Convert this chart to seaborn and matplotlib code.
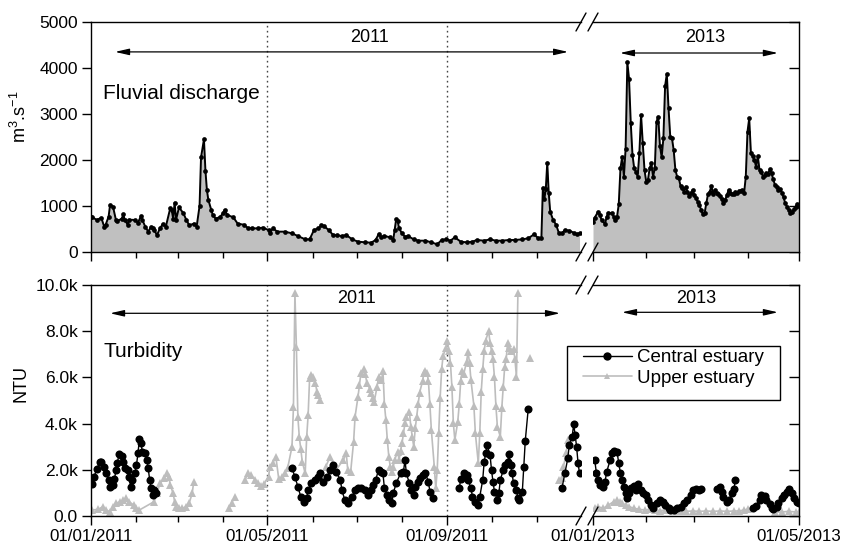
import numpy as np
import pandas as pd
import matplotlib
matplotlib.use("Agg")
import matplotlib.pyplot as plt
import matplotlib.dates as mdates
from matplotlib.ticker import FuncFormatter, FixedLocator
from matplotlib.lines import Line2D
from matplotlib.patches import Rectangle
import seaborn as sns

sns.set_theme(style="ticks")
plt.rcParams["font.family"] = ["Liberation Sans", "DejaVu Sans"]
plt.rcParams["mathtext.fontset"] = "custom"
plt.rcParams["mathtext.rm"] = "Liberation Sans"
plt.rcParams["mathtext.it"] = "Liberation Sans:italic"
plt.rcParams["mathtext.bf"] = "Liberation Sans:bold"
plt.rcParams["text.color"] = "black"
plt.rcParams["axes.labelcolor"] = "black"

# ---------------- data (day offset from 1 January of the year) ----------------
q2011_day = [0, 1, 4, 7, 9, 10, 12, 13, 15, 17, 18, 21, 22, 23, 25, 26, 30, 32, 34, 35, 37, 39, 41, 42, 43,
             45, 47, 49, 51, 54, 55, 56, 57, 58, 60, 63, 65, 67, 70, 72, 74, 75, 77, 78, 79, 80, 82, 83, 85,
             88, 90, 91, 93, 97, 100, 104, 107, 110, 114, 117, 121, 122, 124, 127, 132, 137, 141, 146, 149,
             152, 155, 157, 159, 162, 165, 168, 171, 174, 178, 182, 187, 191, 194, 196, 198, 200, 204, 206,
             207, 208, 209, 210, 212, 214, 216, 220, 223, 228, 232, 236, 239, 242, 245, 248, 252, 256, 260,
             263, 268, 272, 276, 280, 285, 289, 294, 298, 302, 305, 307, 308, 309, 310, 311, 312, 313, 315,
             317, 319, 321, 323, 326, 329, 331, 333]
q2011_val = [760, 754, 696, 746, 551, 594, 768, 1022, 985, 696, 674, 725, 819, 703, 594, 703, 696, 638, 776,
             696, 551, 442, 551, 514, 478, 370, 514, 609, 551, 949, 913, 725, 1072, 703, 971, 841, 696, 580,
             616, 551, 1000, 2058, 2450, 1768, 1348, 1130, 913, 804, 725, 761, 841, 913, 804, 754, 616, 594,
             522, 514, 514, 530, 478, 420, 514, 442, 442, 406, 348, 275, 275, 478, 514, 580, 558, 478, 370,
             360, 348, 370, 275, 225, 210, 203, 261, 384, 319, 348, 319, 261, 478, 710, 681, 514, 406, 333,
             348, 275, 246, 246, 210, 167, 261, 275, 246, 319, 225, 210, 225, 261, 246, 275, 246, 246, 261,
             261, 275, 297, 384, 297, 297, 1398, 1145, 1362, 1942, 1290, 877, 696, 594, 406, 406, 478, 464,
             420, 391, 406]

q2013_day = [0, 1, 3, 4, 5, 7, 8, 9, 11, 12, 13, 14, 15, 16, 17, 18, 19, 20, 21, 22, 23, 24, 25, 26, 27, 28,
             29, 30, 31, 32, 33, 34, 35, 36, 37, 38, 39, 40, 41, 42, 43, 44, 45, 46, 47, 48, 49, 50, 51, 52,
             53, 54, 55, 56, 57, 58, 59, 60, 61, 62, 63, 64, 65, 66, 67, 68, 69, 70, 71, 72, 73, 74, 75, 76,
             77, 78, 79, 80, 81, 82, 83, 84, 85, 86, 87, 88, 89, 90, 91, 92, 93, 94, 95, 96, 97, 98, 99, 100,
             101, 102, 103, 104, 105, 106, 107, 108, 109, 110, 111, 112, 113, 114, 115, 116, 117, 118, 119, 120]
q2013_val = [660, 747, 877, 804, 696, 609, 768, 855, 841, 768, 696, 768, 1036, 1819, 2072, 1637, 2247, 4123,
             3761, 2805, 2110, 1819, 1746, 1637, 2145, 2979, 2363, 1783, 1529, 1565, 1819, 1928, 1637, 1819,
             2834, 2943, 2304, 2058, 2471, 3609, 3870, 3124, 2507, 2471, 2217, 1783, 1637, 1601, 1435, 1384,
             1312, 1421, 1312, 1217, 1275, 1348, 1239, 1167, 1094, 1022, 913, 819, 841, 1058, 1261, 1312,
             1435, 1261, 1348, 1275, 1261, 1217, 1145, 1058, 1130, 1239, 1348, 1275, 1261, 1261, 1312, 1275,
             1333, 1333, 1348, 1275, 1637, 2616, 2906, 2145, 2087, 2000, 1855, 2087, 1783, 1746, 1637, 1674,
             1710, 1696, 1797, 1710, 1580, 1457, 1421, 1348, 1362, 1290, 1188, 1058, 986, 913, 855, 877, 928,
             986, 1044, 1000]

# turbidity; None marks a gap in the record
central2011_day = [1, 2, 4, 6, 7, 9, 10, 12, 13, 15, 16, 17, 18, 19, 21, 22, 23, 25, 26, 27, 28, 30, 31, 32,
                   33, 34, 35, 37, 38, 39, 40, 41, 42, 43, 44, None,
                   137, 139, 141, 143, 145, 147, 148, 150, 153, 155, 156, 158, 161, 163, 165, 167, 170, 171,
                   173, 175, 178, 180, 182, 184, 187, 189, 191, 192, 194, 196, 198, 199, 200, 202, 203, 205,
                   206, 208, 211, 213, 214, 215, 217, 218, 220, 221, 223, 224, 226, 228, 230, 231, 233, None,
                   251, 252, 254, 256, 257, 259, 260, 262, 264, 265, 267, 268, 269, 270, 272, 273, 274, 275,
                   277, 278, 279, 281, 282, 284, 285, 286, 287, 288, 290, 291, 292, 294, 295, 296, 298, None,
                   321, 323, 325, 326, 328, 329, 330, 331, 332, 333]
central2011_val = [1385, 1703, 2020, 2352, 2352, 2135, 1847, 1558, 1270, 1342, 1587, 1991, 2280, 2684, 2597,
                   2352, 2063, 1991, 1703, 1270, 1558, 1876, 2208, 2712, 3319, 3175, 2784, 2741, 2424, 2063,
                   1558, 1198, 909, 1126, 981, None,
                   2063, 1703, 1270, 837, 620, 765, 1126, 1414, 1558, 1703, 1876, 1486, 1703, 1991, 2208,
                   1919, 1558, 1126, 693, 548, 837, 1126, 1198, 1198, 1126, 909, 1126, 1342, 1558, 1991,
                   1919, 1847, 1198, 909, 693, 548, 981, 1414, 1847, 1919, 2424, 1847, 1414, 1126, 909,
                   1270, 1486, 1630, 1775, 1847, 1486, 1053, 765, None,
                   1198, 1587, 1847, 1775, 1558, 1198, 837, 620, 476, 837, 1558, 2352, 2712, 3074, 2640,
                   1991, 1486, 1053, 693, 981, 1558, 1991, 2208, 2352, 2669, 2208, 1847, 1414, 1126, 765,
                   693, 1053, 2135, 3247, 4618, None,
                   1198, 1847, 2496, 3074, 3435, 3983, 3507, 3002, 2280, 1847]

upper2011_day = [1, 5, 8, 10, 13, 15, 17, 20, 22, 24, 26, 29, 31, 33, 43, 45, 47, 50, 52, 53, 54, 56, 57, 58,
                 60, 62, 65, 67, 69, 70, None,
                 94, 96, 98, None,
                 105, 107, 109, 112, 114, 116, 118, 121, 122, 124, 126, 128, 130, 132, 134, 137, 138, 139,
                 140, 141, 142, 143, 144, 146, 147, 148, 149, 150, 151, 153, 154, 155, 156, None,
                 160, 163, 166, 167, 172, 174, 175, 177, 179, 180, 182, 183, 184, 186, 187, 188, 190, 191,
                 192, 193, 195, 196, 198, 199, 200, 201, 202, 203, 204, 205, 206, 207, 209, 210, 211, 212,
                 213, 214, 215, 217, 218, 219, 220, 221, 222, 223, 224, 226, 227, 228, 229, 230, 231, 232,
                 234, 235, 236, 237, 238, 239, 240, 242, 243, 244, 245, 246, 247, 248, 250, 251, 252, 253,
                 254, 256, 257, 258, 259, 261, 262, 264, 265, 266, 267, 268, 269, 271, 272, 273, 274, 275,
                 276, 277, 279, 280, 281, 282, 283, 284, 285, 286, 288, 289, 290, 291, None,
                 299, None,
                 319, 321, 322, 324, 325]
upper2011_val = [260, 288, 404, 260, 188, 404, 548, 620, 693, 765, 620, 476, 332, 260, 620, 981, 1414, 1630,
                 1876, 1703, 1342, 981, 620, 404, 332, 332, 404, 577, 981, 1486, None,
                 332, 577, 837, None,
                 1558, 1847, 1775, 1558, 1414, 1298, 1385, 1703, 2135, 2308, 2568, 1587, 1674, 1847, 2063,
                 3001, 4733, 9640, 7330, 4300, 3406, 2900, 2352, 1847, 3406, 4358, 5960, 6104, 6032, 5744,
                 5383, 5239, 5022, None,
                 2135, 2568, 2135, 1991, 2424, 2712, 1991, 1919, 3217, 4300, 5166, 5671, 6205, 6350, 6133,
                 5772, 5513, 5340, 5123, 4935, 5599, 6017, 5872, 6277, 4834, 4156, 3290, 2568, 2135, 1919,
                 2135, 2424, 2784, 2424, 2828, 3146, 3579, 4012, 4300, 4517, 3868, 3435, 3002, 3796, 4300,
                 4849, 5340, 5844, 6205, 6277, 6205, 5844, 4834, 3723, 2135, 1198, 1991, 3579, 5123, 6350,
                 6927, 7291, 7580, 7147, 6639, 5599, 4012, 3290, 4084, 4834, 5844, 6277, 6133, 6675, 7103,
                 6639, 5872, 4762, 3579, 2280, 3579, 5383, 6350, 7147, 7580, 8013, 7508, 7147, 6783, 6017,
                 4762, 3868, 3435, 4661, 5599, 6466, 6783, 7508, 7291, 7147, 7219, 6783, 6017, 9668, None,
                 6855, None,
                 1558, 1630, 2135, 2712, 3290]

central2013_day = [1, 2, 3, 4, 6, 7, 8, 10, 11, 12, 14, 15, 16, 17, 18, 19, 20, 21, 22, 24, 25, 26, 28, 29,
                   31, 32, 34, 35, 37, 39, 41, 42, 44, 45, 47, 49, 51, 53, 55, 57, 58, 60, 62, 63, None,
                   72, 74, 75, 76, 78, 79, 81, 82, 83, None,
                   93, 95, 97, 98, 100, 101, 103, 104, 105, 107, 108, 110, 111, 113, 114, 116, 117, 119, 120]
central2013_val = [2424, 1847, 1558, 1342, 1270, 1486, 1919, 2424, 2741, 2828, 2784, 2280, 1847, 1558, 1270,
                   981, 765, 981, 1198, 1298, 1126, 1385, 1126, 981, 909, 693, 476, 332, 548, 693, 620, 476,
                   332, 260, 260, 332, 404, 548, 693, 909, 1126, 1154, 1126, 1154, None,
                   1154, 1241, 1053, 837, 620, 693, 981, 1154, 1558, None,
                   332, 433, 693, 909, 866, 693, 519, 332, 288, 404, 577, 765, 909, 1053, 1154, 981, 765,
                   620, 577]

upper2013_day = [1, 3, 6, 9, 12, 14, 16, 17, 19, 21, 24, 27, 30, 33, 36, 39, 42, 47, 51, 54, 58, 62, 66, 70,
                 74, 78, 82, 85, 88, 90, None,
                 106, 110, 114, 118, 120]
upper2013_val = [332, 404, 332, 476, 620, 693, 620, 548, 476, 404, 332, 288, 260, 288, 260, 231, 260, 217,
                 217, 202, 217, 202, 217, 202, 217, 202, 217, 217, 260, 288, None,
                 173, 173, 202, 173, 173]

discharge_yticks = [0, 1000, 2000, 3000, 4000, 5000]
turbidity_yticks = [0, 2000, 4000, 6000, 8000, 10000]
series_names = ["Central estuary", "Upper estuary"]

Y2011 = pd.Timestamp("2011-01-01")
Y2013 = pd.Timestamp("2013-01-01")


def frame(start, days, vals):
    df = pd.DataFrame({"day": pd.array(days, dtype="Float64"), "val": pd.array(vals, dtype="Float64")})
    df["seg"] = df["val"].isna().cumsum()
    df = df.dropna().copy()
    df["day"] = df["day"].astype(float)
    df["val"] = df["val"].astype(float)
    df["date"] = start + pd.to_timedelta(df["day"], unit="D")
    return df


def dpos(start, day):
    return start + pd.Timedelta(days=day)


q11 = frame(Y2011, q2011_day, q2011_val)
q13 = frame(Y2013, q2013_day, q2013_val)
c11 = frame(Y2011, central2011_day, central2011_val)
u11 = frame(Y2011, upper2011_day, upper2011_val)
c13 = frame(Y2013, central2013_day, central2013_val)
u13 = frame(Y2013, upper2013_day, upper2013_val)

# ---------------- figure / layout ----------------
W, H = 841, 546
fig = plt.figure(figsize=(W / 100, H / 100), dpi=100)


def fa(x0, x1, ytop, ybot):
    return [x0 / W, 1 - ybot / H, (x1 - x0) / W, (ybot - ytop) / H]


ax_tl = fig.add_axes(fa(91, 581, 22, 252))
ax_tr = fig.add_axes(fa(593, 799, 22, 252))
ax_bl = fig.add_axes(fa(91, 581, 285, 516))
ax_br = fig.add_axes(fa(593, 799, 285, 516))

GREY_FILL = "#c0c0c0"
GREY_LINE = "#bdbdbd"

# discharge
for ax, df in ((ax_tl, q11), (ax_tr, q13)):
    ax.fill_between(df["date"], 0, df["val"], color=GREY_FILL, lw=0, zorder=1)
    sns.lineplot(data=df, x="date", y="val", units="seg", estimator=None, ax=ax, color="black", lw=1.4,
                 marker="o", markersize=3.4, markeredgewidth=0, legend=False, zorder=3)

# turbidity
for ax, cdf, udf in ((ax_bl, c11, u11), (ax_br, c13, u13)):
    sns.lineplot(data=udf, x="date", y="val", units="seg", estimator=None, ax=ax, color=GREY_LINE, lw=1.2,
                 marker="^", markersize=5.5, markeredgewidth=0, legend=False, zorder=2)
    sns.lineplot(data=cdf, x="date", y="val", units="seg", estimator=None, ax=ax, color="black", lw=1.0,
                 marker="o", markersize=5.8, markeredgewidth=0, legend=False, zorder=3)

# axes limits / ticks
for ax in (ax_tl, ax_bl):
    ax.set_xlim(Y2011, pd.Timestamp("2011-12-01"))
    ax.xaxis.set_major_locator(mdates.MonthLocator(bymonth=[1, 5, 9]))
    ax.xaxis.set_minor_locator(mdates.MonthLocator(bymonth=range(2, 12)))
    ax.spines["right"].set_visible(False)
    for d in ("2011-05-01", "2011-09-01"):
        ax.axvline(pd.Timestamp(d), color="#444444", ls=(0, (1.2, 2.4)), lw=1.0, zorder=0.5)
for ax in (ax_tr, ax_br):
    ax.set_xlim(Y2013, pd.Timestamp("2013-05-01"))
    ax.xaxis.set_major_locator(mdates.MonthLocator(bymonth=[1, 5]))
    ax.xaxis.set_minor_locator(mdates.MonthLocator(bymonth=[2, 3, 4]))
    ax.spines["left"].set_visible(False)
    ax.yaxis.tick_right()

for ax in (ax_tl, ax_tr, ax_bl, ax_br):
    ax.set_xlabel("")
    ax.set_ylabel("")
    ax.xaxis.set_major_formatter(mdates.DateFormatter("%d/%m/%Y"))
    for s in ax.spines.values():
        s.set_linewidth(1.0)
        s.set_color("black")
    ax.tick_params(axis="both", which="major", direction="out", length=6.5, width=1.0, color="black",
                   labelsize=12.5, labelcolor="black", pad=3)
    ax.tick_params(axis="x", which="major", labelsize=12.2)
    ax.tick_params(axis="x", which="minor", direction="out", length=4.5, width=1.0, color="black")

for ax in (ax_tl, ax_tr):
    ax.set_ylim(0, 5000)
    ax.yaxis.set_major_locator(FixedLocator(discharge_yticks))
    ax.tick_params(axis="x", labelbottom=False)
for ax in (ax_bl, ax_br):
    ax.set_ylim(0, 10000)
    ax.yaxis.set_major_locator(FixedLocator(turbidity_yticks))
ax_bl.yaxis.set_major_formatter(FuncFormatter(lambda v, p: f"{v / 1000:.1f}k" if v else "0.0"))
for ax in (ax_tr, ax_br):
    ax.tick_params(axis="y", which="major", direction="in", length=7, labelright=False, labelleft=False)

# axis labels
ax_tl.set_ylabel(r"m$\mathregular{^3}$.s$\mathregular{^{-1}}$", fontsize=13)
ax_tl.yaxis.set_label_coords((30 - 91) / 490, (252 - 117) / 230)
ax_bl.set_ylabel("NTU", fontsize=13)
ax_bl.yaxis.set_label_coords((30 - 91) / 490, (516 - 384) / 231)

# in-panel titles
ax_tl.text(dpos(Y2011, 8.2), 3445, "Fluvial discharge", fontsize=15, ha="left", va="center")
ax_bl.text(dpos(Y2011, 8.2), 7100, "Turbidity", fontsize=15, ha="left", va="center")

# period arrows
arrow = dict(arrowstyle="<|-|>,head_length=0.7,head_width=0.16", color="black", lw=0.9, shrinkA=0, shrinkB=0)
ax_tl.annotate("", xy=(dpos(Y2011, 325.2), 4350), xytext=(dpos(Y2011, 16.4), 4350), arrowprops=arrow)
ax_bl.annotate("", xy=(dpos(Y2011, 319.7), 8775), xytext=(dpos(Y2011, 13.0), 8775), arrowprops=arrow)
ax_tr.annotate("", xy=(dpos(Y2013, 107.7), 4326), xytext=(dpos(Y2013, 15.7), 4326), arrowprops=arrow)
ax_br.annotate("", xy=(dpos(Y2013, 107.7), 8818), xytext=(dpos(Y2013, 16.9), 8818), arrowprops=arrow)
ax_tl.text(dpos(Y2011, 189.5), 4660, "2011", fontsize=13, ha="center", va="center")
ax_bl.text(dpos(Y2011, 181.3), 9394, "2011", fontsize=13, ha="center", va="center")
ax_tr.text(dpos(Y2013, 65.2), 4660, "2013", fontsize=13, ha="center", va="center")
ax_br.text(dpos(Y2013, 60.0), 9394, "2013", fontsize=13, ha="center", va="center")


# axis-break marks
def brk(ax, xa, wpx, hpx):
    dx, dy = 5.0 / wpx, 9.0 / hpx
    for ya in (0, 1):
        ax.plot([xa - dx, xa + dx], [ya - dy, ya + dy], transform=ax.transAxes, color="black", lw=1.0,
                clip_on=False, zorder=10)


brk(ax_tl, 1, 490, 230)
brk(ax_bl, 1, 490, 231)
brk(ax_tr, 0, 206, 230)
brk(ax_br, 0, 206, 231)

# legend
fig.patches.append(Rectangle((567 / W, 1 - 400 / H), 213 / W, 54 / H, transform=fig.transFigure,
                             facecolor="white", edgecolor="black", lw=1.0, zorder=4))
handles = [Line2D([], [], color="black", marker="o", markersize=6, lw=1.0, markeredgewidth=0),
           Line2D([], [], color=GREY_LINE, marker="^", markersize=5, lw=1.2, markeredgewidth=0)]
fig.legend(handles, series_names, loc="upper left", bbox_to_anchor=(583 / W, 1 - 349 / H), frameon=False,
           borderpad=0, borderaxespad=0, handlelength=2.6, handletextpad=0.27, labelspacing=0.2,
           fontsize=13.5)

fig.savefig("out.png", dpi=100)
